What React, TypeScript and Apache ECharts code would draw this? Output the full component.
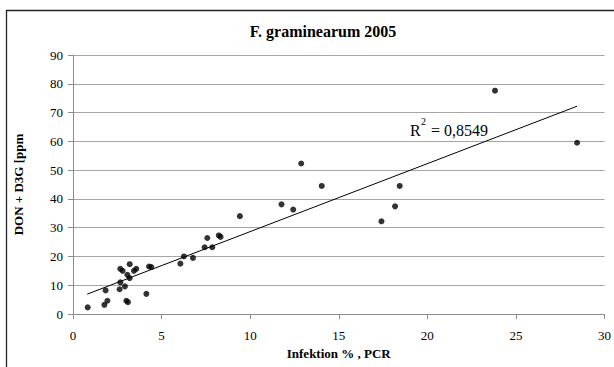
import React, { useEffect, useRef } from "react";
import * as echarts from "echarts";

const infektion: number[] = [
  0.83, 1.77, 1.94, 1.84, 2.67, 2.8, 3.2, 3.57, 3.44, 3.07, 3.2, 2.67, 2.63,
  2.93, 3.01, 3.1, 4.14, 4.29, 4.42, 6.06, 6.26, 6.77, 7.43, 7.58, 7.86, 8.23,
  8.33, 9.42, 11.77, 12.43, 12.88, 14.04, 17.41, 18.18, 18.44, 23.82, 28.45,
];
const donD3g: number[] = [
  2.3, 3.2, 4.6, 8.2, 15.7, 15.0, 17.3, 15.7, 15.0, 13.6, 12.5, 11.0, 8.6,
  9.6, 4.6, 4.1, 7.0, 16.5, 16.3, 17.5, 20.0, 19.5, 23.2, 26.4, 23.2, 27.3,
  26.8, 34.0, 38.1, 36.3, 52.3, 44.5, 32.2, 37.4, 44.5, 77.6, 59.5,
];
const trendX: number[] = [0.8, 28.45];
const trendY: number[] = [6.9, 72.2];

const titleText = "F. graminearum 2005";
const xName = "Infektion % , PCR";
const yName = "DON + D3G [ppm";
const r2Value = "0,8549";

const FONT = "Liberation Serif, serif";

export default function App() {
  const ref = useRef<HTMLDivElement>(null);
  useEffect(() => {
    if (!ref.current) return;
    const chart = echarts.init(ref.current, undefined, { renderer: "svg" });
    const points = infektion.map((x, i) => [x, donD3g[i]]);
    const trend = trendX.map((x, i) => [x, trendY[i]]);
    const lbl = { fontFamily: FONT, fontSize: 13, color: "#000" };
    const nameStyle = { fontFamily: FONT, fontSize: 13, fontWeight: "bold", color: "#000" };
    chart.setOption({
      animation: false,
      backgroundColor: "#ffffff",
      textStyle: { fontFamily: FONT },
      title: {
        text: titleText,
        left: 318,
        textAlign: "center",
        top: 18,
        textStyle: { fontFamily: FONT, fontSize: 16, fontWeight: "bold", color: "#000" },
      },
      grid: { left: 73, right: 8.5, top: 55, bottom: 53, containLabel: false },
      xAxis: {
        type: "value",
        min: 0,
        max: 30,
        interval: 5,
        name: xName,
        nameLocation: "middle",
        nameGap: 31,
        nameTextStyle: nameStyle,
        axisLine: { show: true, lineStyle: { color: "#8c8c8c", width: 1 } },
        axisTick: { show: true, length: 5, lineStyle: { color: "#8c8c8c" } },
        axisLabel: { ...lbl, margin: 15 },
        splitLine: { show: false },
      },
      yAxis: {
        type: "value",
        min: 0,
        max: 90,
        interval: 10,
        name: yName,
        nameLocation: "middle",
        nameGap: 48,
        nameTextStyle: nameStyle,
        axisLine: { show: true, lineStyle: { color: "#8c8c8c", width: 1 } },
        axisTick: { show: true, length: 5, lineStyle: { color: "#8c8c8c" } },
        axisLabel: { ...lbl, margin: 10 },
        splitLine: { show: true, lineStyle: { color: "#a6a6a6", width: 1 } },
      },
      series: [
        {
          type: "line",
          data: trend,
          symbol: "none",
          lineStyle: { color: "#000", width: 1 },
          silent: true,
          z: 2,
        },
        {
          type: "scatter",
          data: points,
          symbol: "circle",
          symbolSize: 6,
          itemStyle: { color: "#000" },
          z: 3,
        },
      ],
      graphic: [
        {
          type: "rect",
          shape: { x: 6.5, y: 10.5, width: 700, height: 500 },
          style: { fill: "none", stroke: "#222", lineWidth: 1.3 },
          silent: true,
        },
        {
          type: "text",
          x: 410,
          y: 130,
          style: { text: "R", fontFamily: FONT, fontSize: 16, fill: "#000", verticalAlign: "middle" },
        },
        {
          type: "text",
          x: 421,
          y: 121,
          style: { text: "2", fontFamily: FONT, fontSize: 10, fill: "#000", verticalAlign: "middle" },
        },
        {
          type: "text",
          x: 427,
          y: 130,
          style: { text: " = " + r2Value, fontFamily: FONT, fontSize: 16, fill: "#000", verticalAlign: "middle" },
        },
      ],
    });
    return () => chart.dispose();
  }, []);
  return (
    <div
      ref={ref}
      style={{ position: "fixed", left: 0, top: 0, width: 614, height: 367 }}
    />
  );
}
